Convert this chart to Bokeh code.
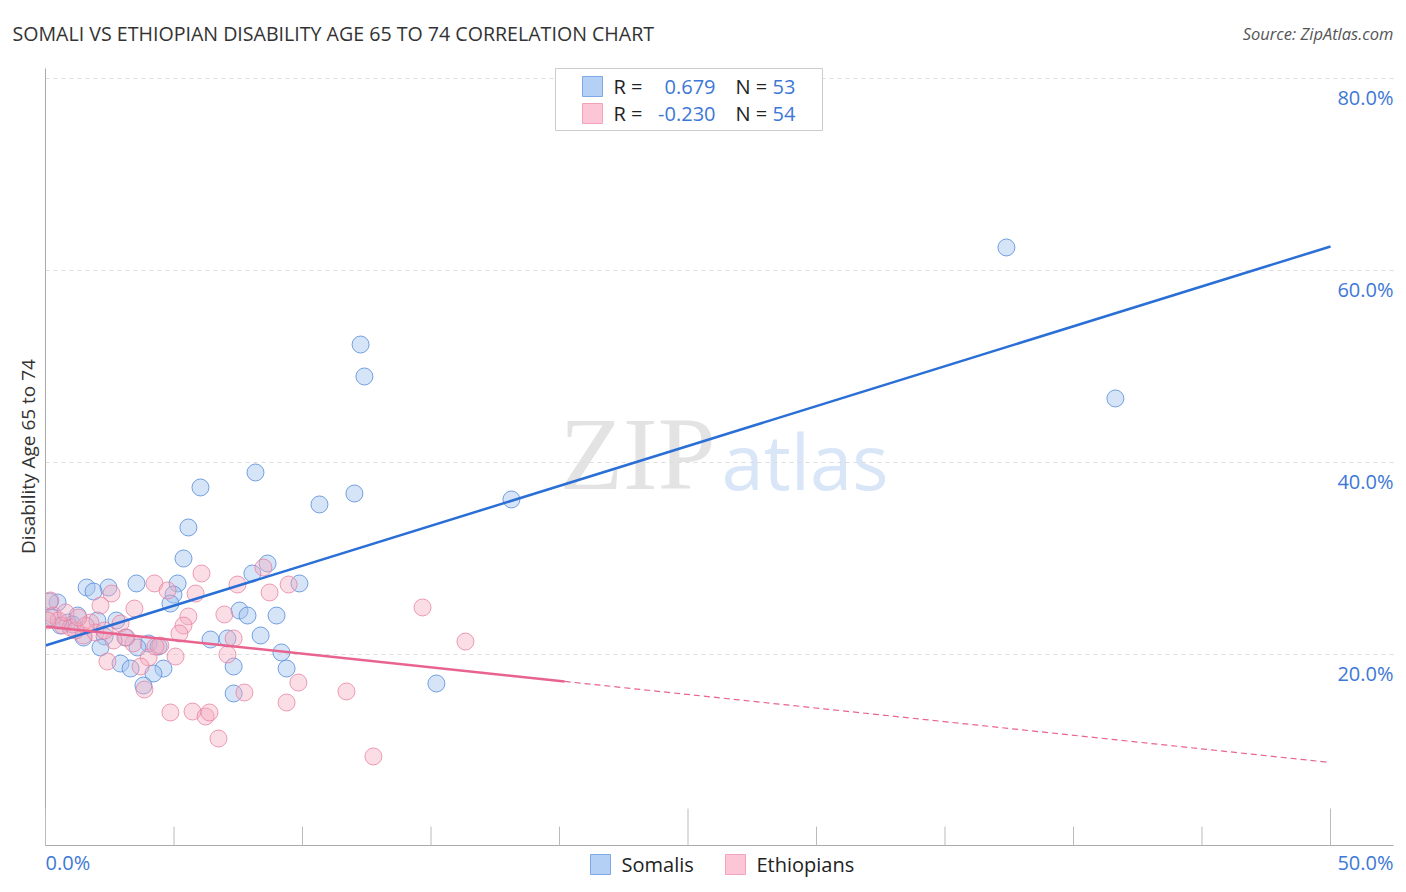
import numpy as np
from bokeh.plotting import figure
from bokeh.models import Range1d, Label, BoxAnnotation
from bokeh.embed import file_html
from bokeh.resources import INLINE

# ---------------- data (percent) ----------------
somali_x = [37.39, 41.63, 12.26, 12.41, 8.17, 6.03, 12.02, 10.66, 18.13, 5.56,
            5.37, 8.64, 8.05, 9.88, 5.14, 3.54, 2.45, 1.60, 1.87, 4.98,
            4.86, 7.55, 7.86, 8.99, 0.47, 0.16, 1.25, 2.02, 0.86, 2.76,
            0.27, 3.11, 2.30, 1.48, 6.42, 7.08, 8.37, 4.01, 3.58, 4.40,
            2.14, 9.18, 7.32, 9.38, 2.92, 3.31, 4.59, 4.20, 15.21, 3.81,
            7.32, 1.05, 0.58]
somali_y = [62.40, 46.67, 52.29, 48.96, 38.96, 37.40, 36.77, 35.63, 36.15, 33.23,
            30.00, 29.48, 28.44, 27.40, 27.40, 27.40, 26.98, 26.98, 26.56, 26.25,
            25.31, 24.58, 24.06, 24.06, 25.42, 25.52, 24.06, 23.54, 23.33, 23.54,
            23.85, 21.77, 21.88, 21.77, 21.56, 21.67, 21.98, 21.15, 20.73, 20.83,
            20.73, 20.21, 18.75, 18.54, 19.06, 18.54, 18.54, 18.02, 16.98, 16.77,
            15.94, 23.13, 23.02]

ethiopian_x = [6.07, 4.24, 4.75, 5.84, 7.47, 8.48, 8.72, 9.46, 2.57, 2.14,
               3.46, 5.56, 5.37, 5.21, 6.96, 7.32, 7.08, 5.06, 4.01, 2.41,
               3.70, 9.84, 9.38, 7.74, 3.85, 4.86, 5.72, 6.23, 6.38, 6.73,
               12.76, 11.71, 14.67, 16.34, 0.19, 0.31, 0.66, 0.97, 1.75, 1.48,
               2.92, 3.42, 4.47, 3.15, 0.51, 1.17, 1.95, 0.78, 0.08, 2.65,
               4.28, 1.56, 1.28, 2.30]
ethiopian_y = [28.44, 27.40, 26.67, 26.35, 27.29, 29.06, 26.46, 27.29, 26.35, 25.10,
               24.79, 23.96, 23.02, 22.19, 24.17, 21.67, 20.00, 19.79, 19.69, 19.27,
               18.75, 17.08, 15.00, 16.04, 16.35, 13.96, 14.06, 13.54, 13.96, 11.25,
               9.38, 16.15, 24.90, 21.35, 25.63, 24.06, 23.02, 22.81, 23.33, 21.98,
               23.23, 21.15, 20.94, 21.77, 23.54, 22.50, 22.29, 24.38, 23.54, 21.46,
               20.83, 23.02, 23.85, 22.50]

# trend lines: value at x=0 and x=50
trend_x = [0.0, 50.0]
somali_trend_y = [20.94, 62.50]
ethiopian_trend_y = [22.92, 8.75]
ethiopian_solid_end = 20.2

y_ticks = [20, 40, 60, 80]
y_tick_labels = ["20.0%", "40.0%", "60.0%", "80.0%"]
x_tick_labels = ["0.0%", "50.0%"]
x_major_ticks = [0, 25, 50]
x_minor_ticks = [5, 10, 15, 20, 30, 35, 40, 45]

legend_r = ["0.679", "-0.230"]
legend_n = ["53", "54"]
series_names = ["Somalis", "Ethiopians"]

# ---------------- styling ----------------
BLUE_FILL = "#a4c4ef"
BLUE_EDGE = "#5a8fdb"
PINK_FILL = "#f6a9bf"
PINK_EDGE = "#e67c9e"
BLUE_LINE = "#2a6fd6"
PINK_LINE = "#e8648e"
LABEL_BLUE = "#3d78d6"
TEXT = "#333333"
FONT = "Open Sans"
LBL = "20px"

# canvas-pixel geometry helpers (layout only)
PX_LEFT, PX_PER_X = 45.0, 25.7
PY_ZERO, PX_PER_Y = 846.0, 9.6
def dx(px):
    return (px - PX_LEFT) / PX_PER_X
def dy(py):
    return (PY_ZERO - py) / PX_PER_Y

W, H = 1398, 884
FR_L, FR_R, FR_T, FR_B = 45, 1393, 68, 845

p = figure(width=W, height=H,
           x_range=Range1d(dx(0), dx(W)), y_range=Range1d(dy(H), dy(0)),
           output_backend="svg", toolbar_location=None,
           x_axis_location=None, y_axis_location=None,
           min_border=0)
p.outline_line_color = None
p.background_fill_color = "white"
p.border_fill_color = "white"
p.xgrid.visible = False
p.ygrid.visible = False

# gridlines
n = len(y_ticks)
p.segment(x0=[dx(FR_L)] * n, x1=[dx(FR_R)] * n, y0=y_ticks, y1=y_ticks,
          line_color="#dddddd", line_width=1, line_dash="4 4")

# watermark
p.add_layout(Label(x=dx(559), y=dy(453), text="ZIP", text_font="Liberation Serif",
                   text_font_size="104px", text_color="#dcdcdc", text_alpha=0.8,
                   text_baseline="alphabetic", text_align="left", level="underlay"))
p.add_layout(Label(x=dx(721), y=dy(460), text="atlas", text_font=FONT,
                   text_font_size="76px", text_color="#c9dcf5", text_alpha=0.7,
                   text_baseline="alphabetic", text_align="left", level="underlay"))

# points
p.scatter(somali_x, somali_y, size=17, marker="circle",
          fill_color=BLUE_FILL, fill_alpha=0.45, line_color=BLUE_EDGE, line_alpha=0.85, line_width=1)
p.scatter(ethiopian_x, ethiopian_y, size=17, marker="circle",
          fill_color=PINK_FILL, fill_alpha=0.4, line_color=PINK_EDGE, line_alpha=0.75, line_width=1)

# trend lines
def interp(x0, x1, y0, y1, x):
    return y0 + (y1 - y0) * (x - x0) / (x1 - x0)

p.line(trend_x, somali_trend_y, line_color=BLUE_LINE, line_width=2.5)
e_mid = interp(trend_x[0], trend_x[1], ethiopian_trend_y[0], ethiopian_trend_y[1], ethiopian_solid_end)
p.line([trend_x[0], ethiopian_solid_end], [ethiopian_trend_y[0], e_mid], line_color=PINK_LINE, line_width=2.5)
p.line([ethiopian_solid_end, trend_x[1]], [e_mid, ethiopian_trend_y[1]], line_color=PINK_LINE,
       line_width=1.2, line_dash="6 4")

# mask left of the plot area (clip markers at the y axis)
p.add_layout(BoxAnnotation(left=dx(0), right=dx(FR_L - 0.5), top=dy(FR_T - 10), bottom=dy(FR_B + 1),
                           fill_color="white", fill_alpha=1.0, line_color=None))

# axes lines and ticks
p.segment(x0=[dx(FR_L)], x1=[dx(FR_R)], y0=[dy(FR_B)], y1=[dy(FR_B)], line_color="#aaaaaa", line_width=1)
p.segment(x0=[dx(FR_L)], x1=[dx(FR_L)], y0=[dy(FR_B)], y1=[dy(FR_T)], line_color="#aaaaaa", line_width=1)
p.segment(x0=x_minor_ticks, x1=x_minor_ticks, y0=[dy(FR_B)] * len(x_minor_ticks),
          y1=[dy(FR_B - 19)] * len(x_minor_ticks), line_color="#bbbbbb", line_width=1)
p.segment(x0=x_major_ticks, x1=x_major_ticks, y0=[dy(FR_B)] * len(x_major_ticks),
          y1=[dy(FR_B - 37)] * len(x_major_ticks), line_color="#bbbbbb", line_width=1)

# right-side y tick labels (below the gridlines)
for t, lab in zip(y_ticks, y_tick_labels):
    p.add_layout(Label(x=dx(FR_R), y=t, y_offset=-19, text=lab, text_align="right",
                       text_baseline="middle", text_font=FONT, text_font_size=LBL,
                       text_color=LABEL_BLUE))

# x tick labels
p.add_layout(Label(x=dx(FR_L), y=dy(862), text=x_tick_labels[0], text_align="left",
                   text_baseline="middle", text_font=FONT, text_font_size=LBL,
                   text_color=LABEL_BLUE))
p.add_layout(Label(x=dx(FR_R), y=dy(862), text=x_tick_labels[1], text_align="right",
                   text_baseline="middle", text_font=FONT, text_font_size=LBL,
                   text_color=LABEL_BLUE))

# y axis title
p.add_layout(Label(x=dx(27), y=dy(456), text="Disability Age 65 to 74", angle=np.pi / 2,
                   text_align="center", text_baseline="middle", text_font=FONT,
                   text_font_size="19px", text_color=TEXT))

# chart title and source
p.add_layout(Label(x=dx(12), y=dy(33), text="SOMALI VS ETHIOPIAN DISABILITY AGE 65 TO 74 CORRELATION CHART",
                   text_align="left", text_baseline="middle", text_font=FONT,
                   text_font_size="19.6px", text_color=TEXT))
p.add_layout(Label(x=dx(FR_R), y=dy(33), text="Source: ZipAtlas.com", text_align="right",
                   text_baseline="middle", text_font=FONT, text_font_size="16.5px",
                   text_font_style="italic", text_color="#555555"))

# top legend box
p.add_layout(BoxAnnotation(left=dx(555), right=dx(822), top=dy(68), bottom=dy(130),
                           fill_color="white", fill_alpha=1.0, line_color="#cccccc",
                           line_alpha=1.0, line_width=1))
rows_y = [86, 113]
sw_fill = ["#b5d0f5", "#fcc6d6"]
sw_edge = ["#7ea9e6", "#f0a3bb"]
for i in range(2):
    cy = rows_y[i]
    p.add_layout(BoxAnnotation(left=dx(582), right=dx(602), top=dy(cy - 10), bottom=dy(cy + 10),
                               fill_color=sw_fill[i], fill_alpha=1.0, line_color=sw_edge[i],
                               line_alpha=1.0, line_width=1))
    p.add_layout(Label(x=dx(613), y=dy(cy), text="R =", text_align="left", text_baseline="middle",
                       text_font=FONT, text_font_size=LBL, text_color="#222222"))
    p.add_layout(Label(x=dx(715), y=dy(cy), text=legend_r[i], text_align="right", text_baseline="middle",
                       text_font=FONT, text_font_size=LBL, text_color=LABEL_BLUE))
    p.add_layout(Label(x=dx(735), y=dy(cy), text="N =", text_align="left", text_baseline="middle",
                       text_font=FONT, text_font_size=LBL, text_color="#222222"))
    p.add_layout(Label(x=dx(772), y=dy(cy), text=legend_n[i], text_align="left", text_baseline="middle",
                       text_font=FONT, text_font_size=LBL, text_color=LABEL_BLUE))

# bottom legend
leg_sw_x = [590, 725]
leg_tx_x = [621, 756]
for i in range(2):
    p.add_layout(BoxAnnotation(left=dx(leg_sw_x[i]), right=dx(leg_sw_x[i] + 20),
                               top=dy(854), bottom=dy(874),
                               fill_color=sw_fill[i], fill_alpha=1.0, line_color=sw_edge[i],
                               line_alpha=1.0, line_width=1))
    p.add_layout(Label(x=dx(leg_tx_x[i]), y=dy(864), text=series_names[i], text_align="left",
                       text_baseline="middle", text_font=FONT, text_font_size=LBL,
                       text_color="#222222"))

open("out.html", "w").write(file_html(p, INLINE))
